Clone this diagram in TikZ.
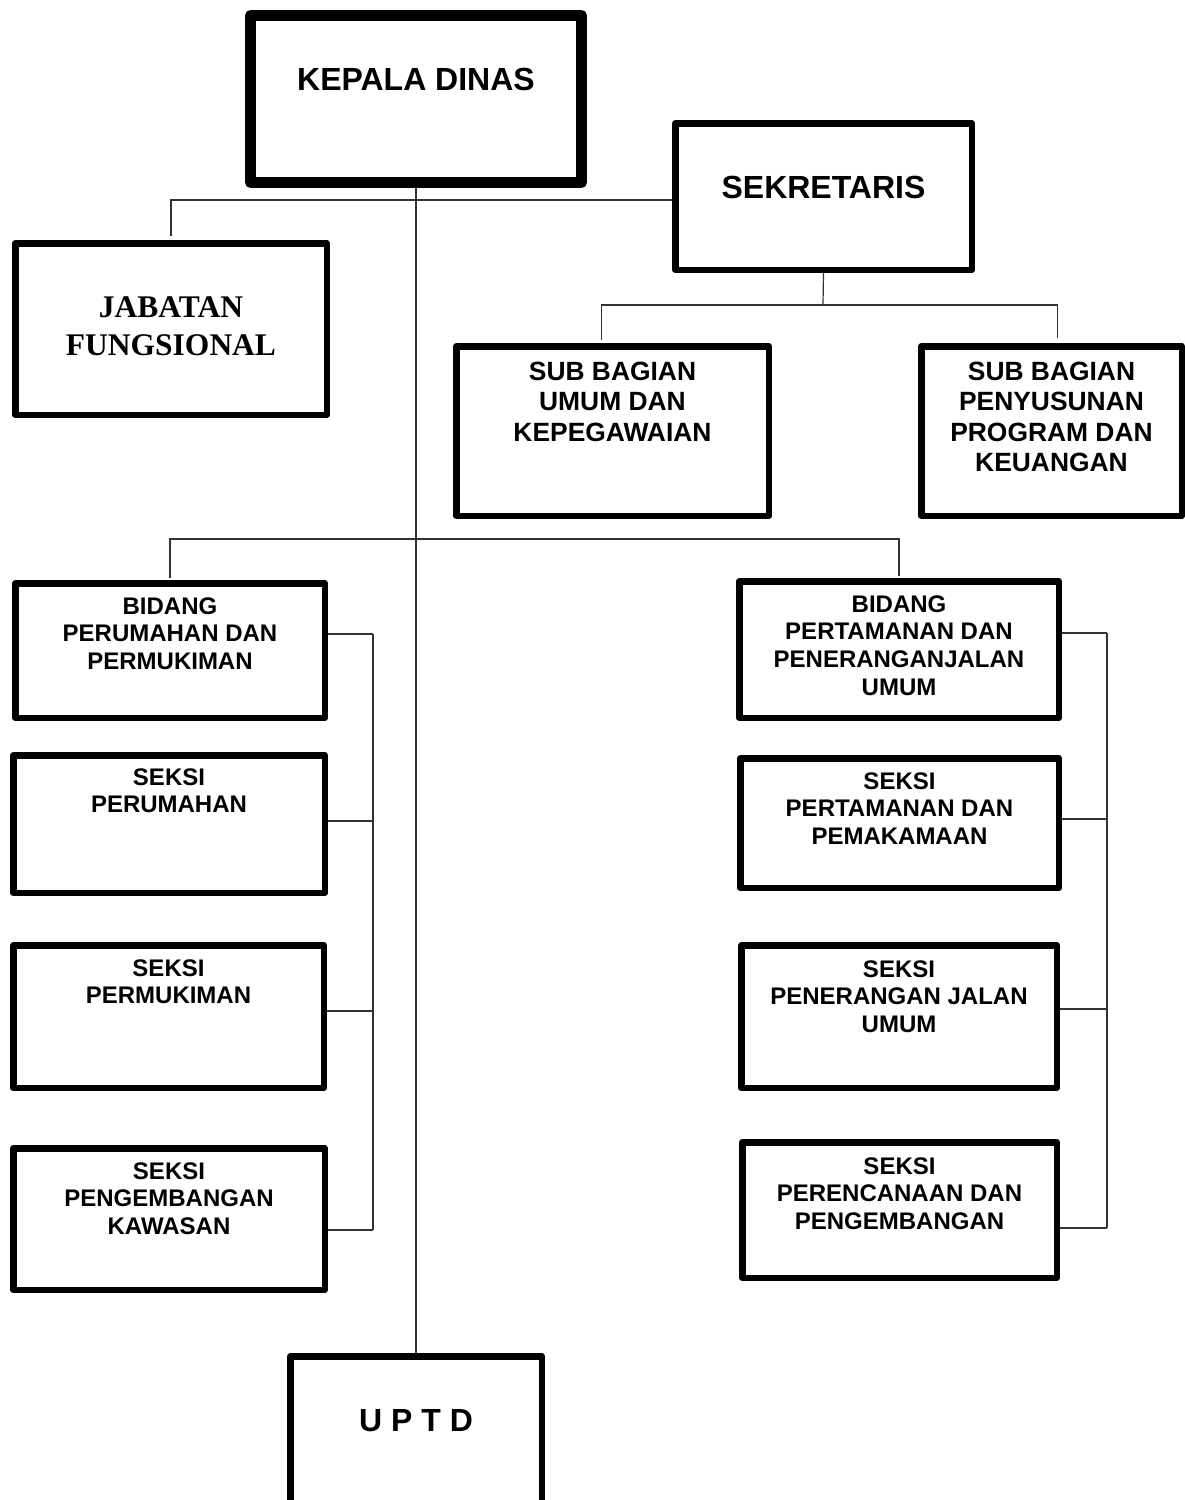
\documentclass[tikz,border=0pt]{standalone}
\usepackage{fontspec}
\setmainfont{Liberation Sans}
\newfontfamily\timesbold{Liberation Serif}
\usetikzlibrary{positioning}
\tikzset{
  unitbox/.style={draw, line width=6.5pt, line join=round, inner sep=0pt, fill=white},
  headbox/.style={unitbox, line width=11pt},
  orgline/.style={line width=1.2pt, black!80},
  bigtext/.style={align=center, inner sep=0pt, font=\bfseries\fontsize{32}{38}\selectfont},
  serftext/.style={align=center, inner sep=0pt, font=\timesbold\bfseries\fontsize{31.5}{38}\selectfont},
  midtext/.style={align=center, inner sep=0pt, font=\bfseries\fontsize{26.4}{30.6}\selectfont},
  smalltext/.style={align=center, inner sep=0pt, font=\bfseries\fontsize{24}{27.6}\selectfont}
}

\begin{document}
\begin{tikzpicture}[x=1pt, y=-1pt]
  \clip (0,0) rectangle (1185,1500);
  % kotak unit
  \node[headbox, minimum width=331pt, minimum height=167pt] (kadis) at (416,99) {};
  \node[unitbox, minimum width=296.5pt, minimum height=146.5pt] (sekr) at (823.5,196.5) {};
  \node[unitbox, minimum width=311.5pt, minimum height=171.5pt] (jabfung) at (171,329) {};
  \node[unitbox, minimum width=312.5pt, minimum height=169.5pt] (subumum) at (612.5,431) {};
  \node[unitbox, minimum width=260.5pt, minimum height=169.5pt] (subprog) at (1051.5,431) {};
  \node[unitbox, minimum width=309.5pt, minimum height=134.5pt] (bidperum) at (170,650.5) {};
  \node[unitbox, minimum width=311.5pt, minimum height=137.5pt] (sperum) at (169,824) {};
  \node[unitbox, minimum width=310.5pt, minimum height=142.5pt] (smukim) at (168.5,1016.5) {};
  \node[unitbox, minimum width=311.5pt, minimum height=141.5pt] (skawasan) at (169,1219) {};
  \node[unitbox, minimum width=319.5pt, minimum height=136.5pt] (bidtaman) at (899,649.5) {};
  \node[unitbox, minimum width=318.5pt, minimum height=129.5pt] (staman) at (899.5,823) {};
  \node[unitbox, minimum width=315.5pt, minimum height=142.5pt] (spju) at (899,1016.5) {};
  \node[unitbox, minimum width=314.5pt, minimum height=135.5pt] (srencana) at (899.5,1210) {};
  \node[unitbox, minimum width=251.5pt, minimum height=180.5pt] (uptd) at (416,1446.5) {};

  % tulisan
  \node[bigtext, below=58pt of kadis.north] (kadistxt) {KEPALA DINAS};
  \node[bigtext, below=55.5pt of sekr.north] (sekrtxt) {SEKRETARIS};
  \node[serftext, below=56.5pt of jabfung.north] (jabfungtxt) {JABATAN\\FUNGSIONAL};
  \node[midtext, below=18.5pt of subumum.north] (subumumtxt) {SUB BAGIAN\\UMUM DAN\\KEPEGAWAIAN};
  \node[midtext, below=18.5pt of subprog.north] (subprogtxt) {SUB BAGIAN\\PENYUSUNAN\\PROGRAM DAN\\KEUANGAN};
  \node[smalltext, below=17.4pt of bidperum.north] (bidperumtxt) {BIDANG\\PERUMAHAN DAN\\PERMUKIMAN};
  \node[smalltext, below=16.4pt of sperum.north] (sperumtxt) {SEKSI\\PERUMAHAN};
  \node[smalltext, below=17.4pt of smukim.north] (smukimtxt) {SEKSI\\PERMUKIMAN};
  \node[smalltext, below=17.4pt of skawasan.north] (skawasantxt) {SEKSI\\PENGEMBANGAN\\KAWASAN};
  \node[smalltext, below=17.4pt of bidtaman.north] (bidtamantxt) {BIDANG\\PERTAMANAN DAN\\PENERANGANJALAN\\UMUM};
  \node[smalltext, below=17.4pt of staman.north] (stamantxt) {SEKSI\\PERTAMANAN DAN\\PEMAKAMAAN};
  \node[smalltext, below=18.4pt of spju.north] (spjutxt) {SEKSI\\PENERANGAN JALAN\\UMUM};
  \node[smalltext, below=18.4pt of srencana.north] (srencanatxt) {SEKSI\\PERENCANAAN DAN\\PENGEMBANGAN};
  \node[bigtext, below=56.5pt of uptd.north] (uptdtxt) {U P T D};

  % garis
  \draw[orgline] (kadis.south) -- (uptd.north);
  \draw[orgline, shorten <=4pt] (jabfung.north) |- ([yshift=-3.5pt]sekr.west);
  \coordinate (sekbus) at (823,305);
  \draw[orgline] (sekr.south) -- (sekbus);
  \draw[orgline, shorten <=3pt] ([xshift=-11pt]subumum.north) |- (sekbus);
  \draw[orgline, shorten <=5pt] ([xshift=6pt]subprog.north) |- (sekbus);
  \coordinate (bidbus) at (416,539);
  \draw[orgline, shorten <=2pt, shorten >=2pt] (bidperum.north) |- (bidbus) -| (bidtaman.north);
  \coordinate (lb1) at (373,634);
  \coordinate (lb2) at (373,821);
  \coordinate (lb3) at (373,1011);
  \coordinate (lb4) at (373,1230);
  \coordinate (rb1) at (1107,633);
  \coordinate (rb2) at (1107,819);
  \coordinate (rb3) at (1107,1009);
  \coordinate (rb4) at (1107,1228);
  \draw[orgline] (lb1) -- (lb4);
  \draw[orgline] (rb1) -- (rb4);
  \foreach \n/\c in {bidperum/lb1, sperum/lb2, smukim/lb3, skawasan/lb4,
                     bidtaman/rb1, staman/rb2, spju/rb3, srencana/rb4}
    \draw[orgline] (\n.east |- \c) -- (\c);
\end{tikzpicture}
\end{document}
